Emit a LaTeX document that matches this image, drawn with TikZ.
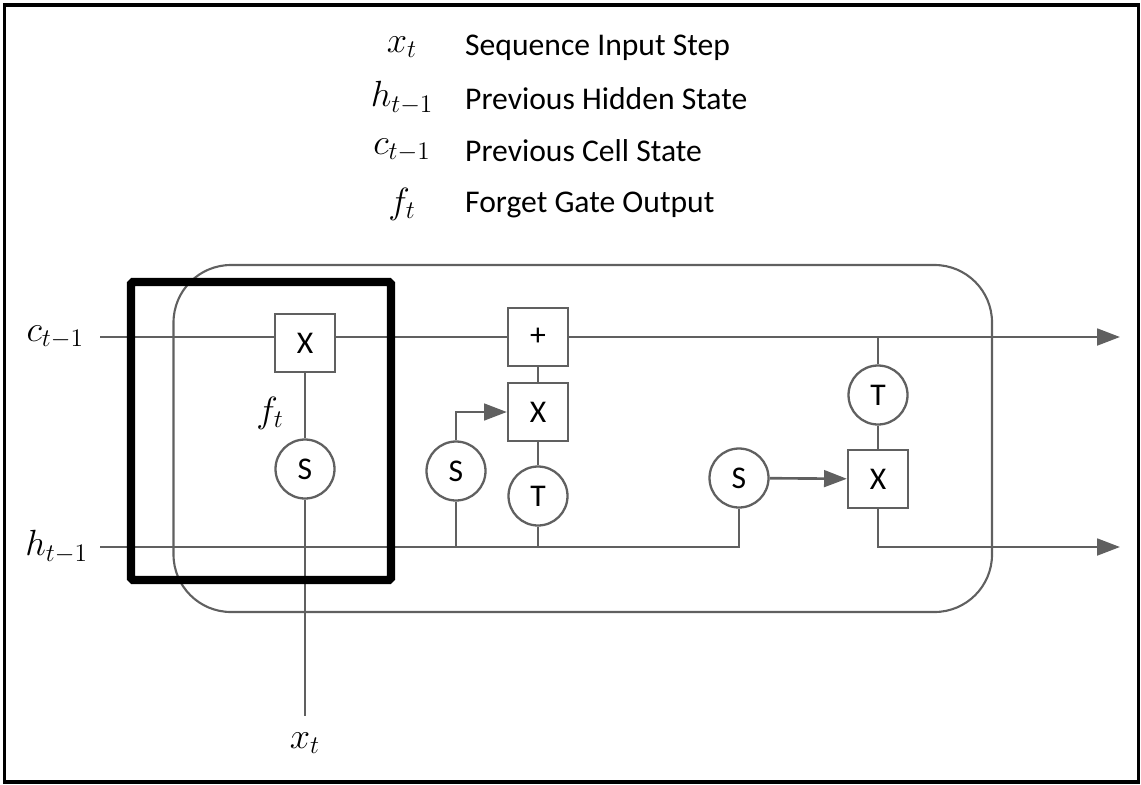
\documentclass[tikz,border=0pt]{standalone}
\usepackage{fontspec}
\setsansfont{Carlito}
\usepackage{tikz}
\usetikzlibrary{positioning,calc,arrows.meta}
\definecolor{wire}{HTML}{606060}
\begin{document}
\begin{tikzpicture}[x=0.02cm,y=-0.02cm,
        font=\huge,
        legtext/.style={anchor=west,font=\fontsize{18}{22}\selectfont\sffamily},
        gatebox/.style={draw=wire,line width=1.3pt,fill=white,minimum width=1.2cm,minimum height=1.15cm,inner sep=0pt,font=\fontsize{18}{22}\selectfont\sffamily},
        gatecirc/.style={draw=wire,line width=1.3pt,fill=white,circle,minimum size=1.18cm,inner sep=0pt,font=\fontsize{18}{22}\selectfont\sffamily},
        wireline/.style={draw=wire,line width=1.5pt},
        flow/.style={wireline,-{Triangle[length=13pt,width=9.5pt]}}]
        \useasboundingbox (0,0) rectangle (1141,784);
        \draw[line width=1.8pt] (4.5,5) rectangle (1138.5,782);

        \node (sym1) at (402,47) {$x_t$};
        \node (sym2) at (402,98) {$h_{t-1}$};
        \node (sym3) at (402,150) {$c_{t-1}$};
        \node (sym4) at (402,204) {$f_t$};
        \node[legtext] (txt1) at (459,48) {Sequence Input Step};
        \node[legtext] (txt2) at (459,99) {Previous Hidden State};
        \node[legtext] (txt3) at (459,151) {Previous Cell State};
        \node[legtext] (txt4) at (459,205) {Forget Gate Output};

        \draw[draw=wire,line width=1.2pt,rounded corners=1.15cm] (173.5,265) rectangle (992,612);

        \node[anchor=east] (clab) at (90,337) {$c_{t-1}$};
        \node[anchor=east] (hlab) at (94,547) {$h_{t-1}$};
        \coordinate (cin) at (100,337);
        \coordinate (cout) at (1120,337);
        \coordinate (hin) at (100,547);
        \coordinate (hout) at (1120,547);
        \coordinate (xin) at (305,716);
        \node (xlab) at (305,743) {$x_t$};

        \node[gatebox] (fgx) at (305,343) {X};
        \node[gatecirc] (fgs) at (305,469) {S};
        \node (ft) at (270,413) {$f_t$};
        \node[gatebox] (add) at (538,337) {+};
        \node[gatebox] (igx) at (538,412) {X};
        \node[gatecirc] (igs) at (456,471) {S};
        \node[gatecirc] (igt) at (538,496) {T};
        \node[gatecirc] (ogs) at (739,478) {S};
        \node[gatebox] (ogx) at (878,479) {X};
        \node[gatecirc] (ogt) at (878,395) {T};

        \draw[wireline] (cin) -- (cin -| fgx.west);
        \draw[wireline] (cin -| fgx.east) -- (add.west);
        \draw[flow] (add.east) -- (cout);
        \draw[wireline] (fgx) -- (fgs);
        \draw[wireline] (fgs) -- (xin);
        \draw[wireline] (add) -- (igx);
        \draw[wireline] (igx) -- (igt);
        \draw[flow] (igs.north) |- (igx.west);
        \draw[wireline] (igs) -- (igs |- hin);
        \draw[wireline] (igt) -- (igt |- hin);
        \draw[wireline] (hin) -| (ogs.south);
        \draw[flow] (ogs) -- (ogx);
        \draw[wireline] (ogt) -- (ogt |- cout);
        \draw[wireline] (ogt) -- (ogx);
        \draw[flow] (ogx.south) |- (hout);

        \draw[line width=4.6pt,rounded corners=1pt] (131,282) rectangle (391,580);
    \end{tikzpicture}
\end{document}
